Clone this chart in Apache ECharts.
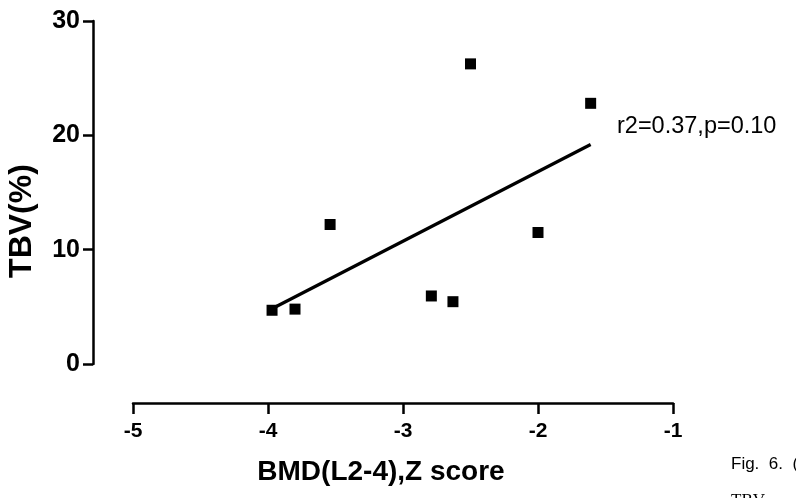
<!DOCTYPE html>
<html>
<head>
<meta charset="utf-8">
<script src="https://cdn.jsdelivr.net/npm/echarts@6/dist/echarts.min.js"></script>
<style>html,body{margin:0;padding:0;background:#fff;}#c{width:796px;height:498px;}</style>
</head>
<body>
<div id="c"></div>
<script>
// Data
const bmdZ = [-3.97, -3.80, -3.54, -2.79, -2.63, -2.50, -2.00, -1.61];
const tbv  = [4.7, 4.8, 12.2, 5.95, 5.45, 26.25, 11.5, 22.8];
const fitX = [-3.96, -1.61];
const fitY = [4.9, 19.2];
const xMin = -5, xMax = -1, xStep = 1;
const yMin = 0, yMax = 30, yStep = 10;
const xName = 'BMD(L2-4),Z score';
const yName = 'TBV(%)';
const statText = 'r2=0.37,p=0.10';
const captionLine1 = 'Fig.  6.  (';
const captionLine2 = 'TBV';

const chart = echarts.init(document.getElementById('c'), null, {renderer: 'canvas'});
const font = 'Liberation Sans, Arial, sans-serif';
const option = {
  animation: false,
  backgroundColor: '#fff',
  grid: {left: 133, right: 123, top: 21, bottom: 134, containLabel: false},
  xAxis: {
    type: 'value', min: xMin, max: xMax, interval: xStep,
    offset: 39,
    name: xName, nameLocation: 'middle', nameGap: 55,
    nameTextStyle: {color: '#000', fontFamily: font, fontWeight: 'bold', fontSize: 28, padding: [0, 44, 0, 0], verticalAlign: 'top'},
    axisLine: {show: true, onZero: false, lineStyle: {color: '#000', width: 2.5}},
    axisTick: {show: true, inside: false, length: 11, lineStyle: {color: '#000', width: 2.5}},
    axisLabel: {color: '#000', fontFamily: font, fontWeight: 'bold', fontSize: 21, margin: 18},
    splitLine: {show: false}
  },
  yAxis: {
    type: 'value', min: yMin, max: yMax, interval: yStep,
    offset: 40,
    axisLine: {show: true, onZero: false, lineStyle: {color: '#000', width: 2.5}},
    axisTick: {show: true, inside: false, length: 10, lineStyle: {color: '#000', width: 2.5}},
    axisLabel: {color: '#000', fontFamily: font, fontWeight: 'bold', fontSize: 25, margin: 13},
    splitLine: {show: false}
  },
  graphic: [
    {type: 'text', x: 22, y: 221, rotation: Math.PI / 2,
     style: {text: yName, fill: '#000', font: 'bold 32px ' + font, textAlign: 'center', textVerticalAlign: 'middle'}},
    {type: 'text', x: 617, y: 127,
     style: {text: statText, fill: '#000', font: '23.5px ' + font, textAlign: 'left', textVerticalAlign: 'middle'}},
    {type: 'text', x: 731, y: 464,
     style: {text: captionLine1, fill: '#000', font: '17px ' + font, textAlign: 'left', textVerticalAlign: 'middle'}},
    {type: 'text', x: 731, y: 501,
     style: {text: captionLine2, fill: '#000', font: '17px Liberation Serif, serif', textAlign: 'left', textVerticalAlign: 'middle'}}
  ],
  series: [
    {
      type: 'line',
      data: fitX.map((x, i) => [x, fitY[i]]),
      symbol: 'none',
      lineStyle: {color: '#000', width: 3.2},
      z: 2
    },
    {
      type: 'scatter',
      data: bmdZ.map((x, i) => [x, tbv[i]]),
      symbol: 'rect', symbolSize: 11,
      itemStyle: {color: '#000', opacity: 1},
      z: 3
    }
  ]
};
chart.setOption(option);
</script>
</body>
</html>
